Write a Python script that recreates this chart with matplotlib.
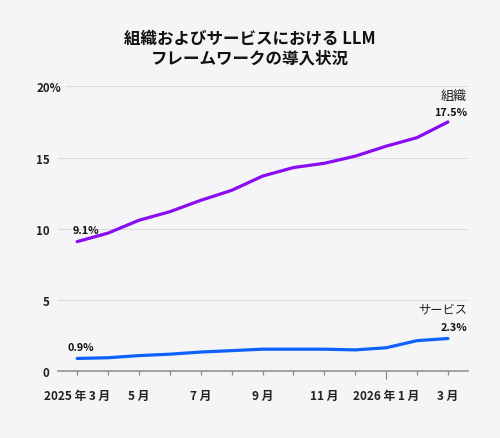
import matplotlib
matplotlib.use("Agg")
import matplotlib.pyplot as plt
import numpy as np

plt.rcParams['font.family'] = ['Noto Sans CJK JP', 'DejaVu Sans']

# data
months = ["2025 年 3 月", "4 月", "5 月", "6 月", "7 月", "8 月", "9 月",
          "10 月", "11 月", "12 月", "2026 年 1 月", "2 月", "3 月"]
org = [9.1, 9.7, 10.6, 11.2, 12.0, 12.7, 13.7, 14.3, 14.6, 15.1, 15.8, 16.4, 17.5]
svc = [0.9, 0.95, 1.1, 1.2, 1.35, 1.45, 1.55, 1.55, 1.55, 1.5, 1.65, 2.15, 2.3]
series_names = ["組織", "サービス"]
yticks = [0, 5, 10, 15, 20]
ytick_labels = ["0", "5", "10", "15", "20%"]
title = "組織およびサービスにおける LLM\nフレームワークの導入状況"

bg = "#f5f5f7"
purple = "#8a0cf2"
blue = "#0f62fe"

x = np.arange(len(months))

fig = plt.figure(figsize=(5, 4.39), dpi=100, facecolor=bg)
ax = fig.add_axes([0.116, 0.152, 0.82, 0.649], facecolor=bg)

for v in yticks[1:]:
    ax.axhline(v, color="#dcdcdf", lw=0.8, zorder=0)

ax.plot(x, org, color=purple, lw=2.3, solid_capstyle="round", zorder=3)
ax.plot(x, svc, color=blue, lw=2.3, solid_capstyle="round", zorder=3)

ax.set_xlim(-0.62, 12.65)
ax.set_ylim(0, 20)

for s in ["top", "right", "left"]:
    ax.spines[s].set_visible(False)
ax.spines["bottom"].set_color("#8a8a8a")
ax.spines["bottom"].set_linewidth(1.1)

ax.set_xticks(x)
ax.set_xticklabels([m if i % 2 == 0 else "" for i, m in enumerate(months)],
                   fontsize=8.5, fontweight="bold", color="#222222")
ax.tick_params(axis="x", length=3, width=0.9, color="#8a8a8a", pad=9.5)
ax.xaxis.get_major_ticks()[10].tick1line.set_markersize(6)

ax.set_yticks(yticks)
ax.set_yticklabels(ytick_labels, fontsize=8.3, fontweight="bold", color="#222222")
ax.tick_params(axis="y", length=0, pad=6)
for lbl in ax.get_yticklabels():
    if lbl.get_text() == "20%":
        lbl.set_horizontalalignment("left")
        lbl.set_x(-0.031)
        lbl.set_bbox(dict(facecolor=bg, edgecolor="none", pad=3))

# end labels
lab = dict(fontsize=7.8, fontweight="bold", color="#111111")
ax.annotate(f"{org[0]}%", (x[0], org[0]), xytext=(-3.6, 8.6),
            textcoords="offset points", ha="left", va="center", **lab)
ax.annotate(f"{svc[0]}%", (x[0], svc[0]), xytext=(-7, 8.6),
            textcoords="offset points", ha="left", va="center", **lab)
ax.annotate(f"{org[-1]}%", (x[-1], org[-1]), xytext=(13.7, 7),
            textcoords="offset points", ha="right", va="center", **lab)
ax.annotate(f"{svc[-1]}%", (x[-1], svc[-1]), xytext=(13.7, 8.6),
            textcoords="offset points", ha="right", va="center", **lab)
ax.annotate(series_names[0], (x[-1], org[-1]), xytext=(13.7, 19),
            textcoords="offset points", ha="right", va="center",
            fontsize=9.4, color="#222222")
ax.annotate(series_names[1], (x[-1], svc[-1]), xytext=(13.7, 21.6),
            textcoords="offset points", ha="right", va="center",
            fontsize=8.8, color="#222222")

fig.text(0.5, 0.889, title, ha="center", va="center", fontsize=11.9,
         fontweight="bold", color="#111111", linespacing=1.05)

fig.savefig("out.png", dpi=100, facecolor=bg)
